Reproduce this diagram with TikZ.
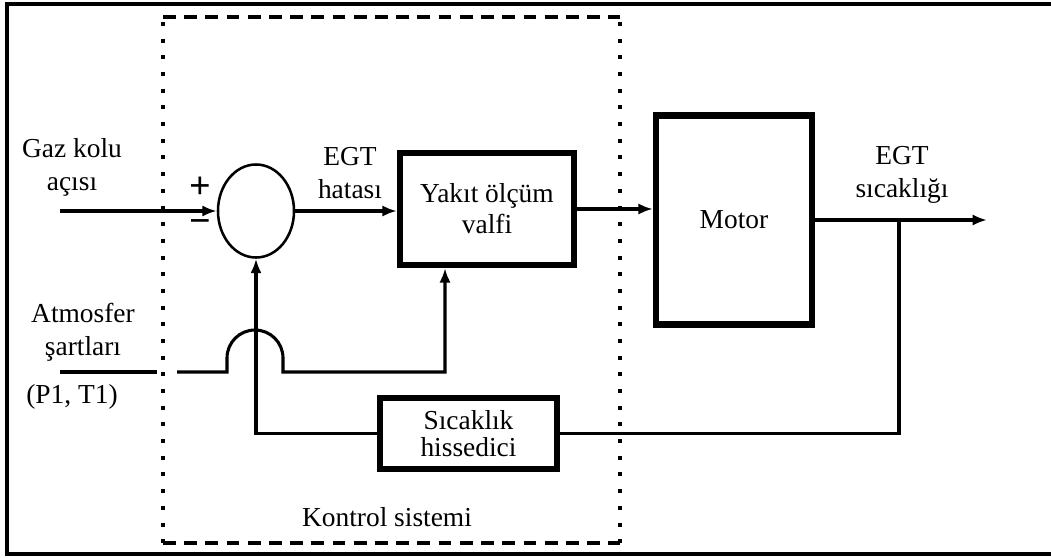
\documentclass[tikz,border=0pt]{standalone}
\usepackage{fontspec}
\setmainfont{Liberation Serif}
\usetikzlibrary{arrows.meta,shapes.geometric}
\tikzset{
  box/.style={draw,line width=4.5pt,align=center,inner sep=2pt},
  sum/.style={draw,ellipse,line width=1.8pt,inner sep=0pt,
    minimum width=1.9cm,minimum height=2.325cm},
  lbl/.style={align=center,inner sep=0pt},
  sign/.style={lbl,font=\fontsize{27}{27}\selectfont\bfseries},
  wire/.style={line width=2.2pt},
  flow/.style={wire,-{Latex[length=3.6mm,width=2.8mm]}},
  hdash/.style={line width=2.8pt,dash pattern=on 0.32cm off 0.21cm},
  vdots/.style={line width=2.8pt,dash pattern=on 0.1cm off 0.317cm}
}
\begin{document}
\begin{tikzpicture}[x=0.025cm,y=0.025cm,font=\fontsize{19.5}{23.4}\selectfont]
  \useasboundingbox (0,0) rectangle (1051,-558);
  \draw[line width=2.2pt] (1070,-4) -- (7,-4) -- (7,-554) -- (1070,-554);

  % control system border
  \draw[hdash] (163,-17) -- (620,-17);
  \draw[hdash] (163,-543) -- (620,-543);
  \draw[vdots] (163,-22) -- (163,-543);
  \draw[vdots] (620,-22) -- (620,-543);

  \node[sum] (sum) at (256,-211) {};
  \node[box,minimum width=4.35cm,minimum height=2.8cm,
    font=\fontsize{19.5}{22}\selectfont] (valve) at (487,-209) {Yakıt ölçüm\\valfi};
  \node[box,minimum width=3.9cm,minimum height=5.225cm] (motor) at (734,-220) {Motor};
  \node[box,minimum width=4.425cm,minimum height=1.775cm,
    font=\fontsize{19.5}{19.5}\selectfont] (sensor) at (468.5,-433.5) {Sıcaklık\\hissedici};

  \node[lbl] (gaz) at (72,-167) {Gaz kolu\\açısı};
  \node[lbl] (err) at (350,-173) {EGT\\hatası};
  \node[lbl] (egt) at (902,-175) {EGT\\sıcaklığı};
  \node[lbl] (atm) at (83,-332) {Atmosfer\\şartları};
  \node[lbl] (p1) at (72,-397) {(P1, T1)};
  \node[lbl] (ctrl) at (387,-517) {Kontrol sistemi};
  \node[sign] (plus) at (200,-188) {+};
  \node[sign] (minus) at (200,-227) {−};

  \coordinate (gazin) at (60,-211);
  \coordinate (atmin) at (60,-372);
  \coordinate (atmcut) at (157,-372);
  \coordinate (atmon) at (177,-372);
  \coordinate (humpl) at (227,-372);
  \coordinate (atmup) at (445,-372);
  \coordinate (tap) at (899,-220);
  \coordinate (egtout) at (987,-220);

  \draw[flow] (gazin) -- (sum.west);
  \draw[flow] (sum.east) -- (sum.east -| valve.west);
  \draw[flow] (valve.east) -- (valve.east -| motor.west);
  \draw[flow] (motor.east) -- (egtout);
  \draw[wire] (tap) |- (sensor.east);
  \draw[flow] (sensor.west) -| (sum.south);
  \draw[wire] (atmin) -- (atmcut);
  \draw[flow] (atmon) -- (humpl) -- ++(0,14) arc[start angle=180,end angle=0,radius=28]
    -- ++(0,-14) -- (atmup) -- (atmup |- valve.south);
\end{tikzpicture}
\end{document}
